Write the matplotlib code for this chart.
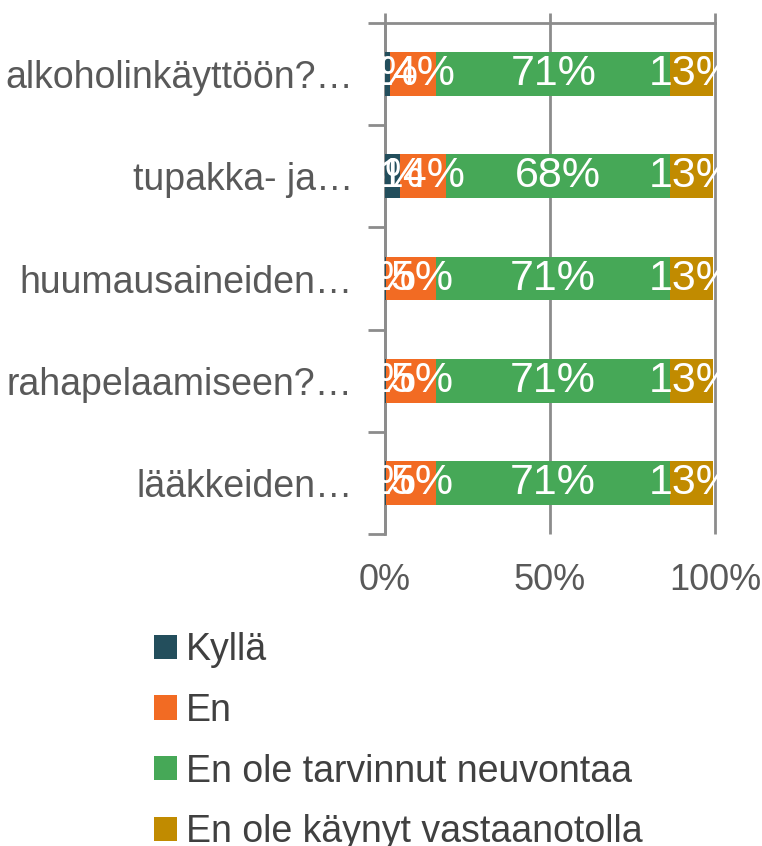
import numpy as np
import matplotlib.pyplot as plt

plt.rcParams['font.family'] = ['Liberation Sans', 'DejaVu Sans']

categories = ["alkoholinkäyttöön?…", "tupakka- ja…", "huumausaineiden…",
              "rahapelaamiseen?…", "lääkkeiden…"]
series = ["Kyllä", "En", "En ole tarvinnut neuvontaa", "En ole käynyt vastaanotolla"]
kylla = [1.5, 4.5, 0.4, 0.4, 0.4]
en = [14, 14, 15, 15, 15]
ei_tarvetta = [71, 68, 71, 71, 71]
ei_kaynyt = [13, 13, 13, 13, 13]
kylla_lbl = ["1%", "5%", "0%", "0%", "0%"]
en_lbl = ["14%", "14%", "15%", "15%", "15%"]
ei_tarvetta_lbl = ["71%", "68%", "71%", "71%", "71%"]
ei_kaynyt_lbl = ["13%", "13%", "13%", "13%", "13%"]
colors = ["#234E5C", "#F26B23", "#46A857", "#C18B00"]
grid_c = '#8c8c8c'

fig = plt.figure(figsize=(7.62, 8.46), dpi=100)
ax = fig.add_axes([385/762, 1 - 534/846, 330/762, 511/846])

y = np.arange(len(categories))
left = np.zeros(len(categories))
vals = [kylla, en, ei_tarvetta, ei_kaynyt]
lbls = [kylla_lbl, en_lbl, ei_tarvetta_lbl, ei_kaynyt_lbl]
for name, v, lb, c in zip(series, vals, lbls, colors):
    bars = ax.barh(y, v, left=left, height=0.43, color=c, label=name, zorder=3)
    ax.bar_label(bars, labels=lb, label_type='center', color='white', fontsize=31, zorder=4)
    left += np.array(v)

ax.set_xlim(0, 100)
ax.set_ylim(len(categories) - 0.5, -0.5)
# gridlines poke a little above the plot area
ax.vlines([0, 50, 100], len(categories) - 0.5, -0.6, color=grid_c, linewidth=2,
          zorder=1, clip_on=False)
ax.set_xticks([0, 50, 100])
ax.set_xticklabels(["0%", "50%", "100%"])
ax.set_yticks(y)
ax.set_yticklabels(categories)
ax.set_yticks(np.arange(len(categories) + 1) - 0.5, minor=True)
ax.tick_params(axis='y', which='major', length=0, pad=23, labelsize=27, labelcolor='#595959')
ax.tick_params(axis='y', which='minor', length=12, width=2, color=grid_c)
ax.tick_params(axis='x', length=0, pad=21, labelsize=26, labelcolor='#595959')
for s in ['right', 'bottom']:
    ax.spines[s].set_visible(False)
for s in ['left', 'top']:
    ax.spines[s].set_color(grid_c)
    ax.spines[s].set_linewidth(2)

fig.legend(loc='upper left', bbox_to_anchor=(154/762, 1 - 632/846), frameon=False,
           fontsize=27, handlelength=0.62, handleheight=0.62, handletextpad=0.22,
           labelspacing=0.66, borderaxespad=0, borderpad=0, labelcolor='#404040')

fig.savefig("out.png", dpi=100)
